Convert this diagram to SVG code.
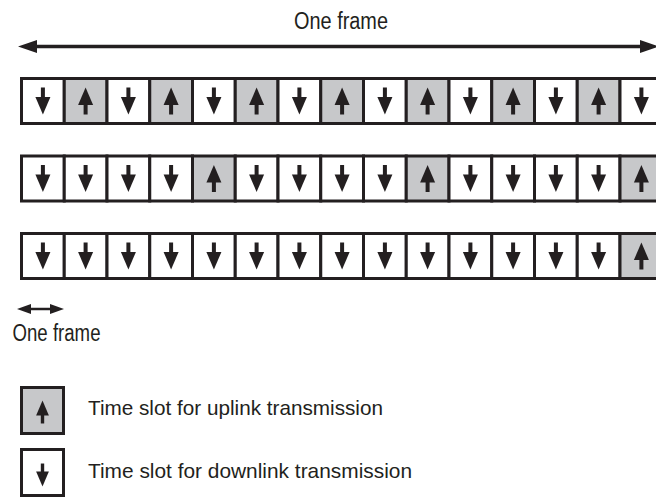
<svg xmlns="http://www.w3.org/2000/svg" xmlns:xlink="http://www.w3.org/1999/xlink" width="656" height="497" viewBox="0 0 656 497">
<style>
.dn{fill:#ffffff;stroke:#231f20;stroke-width:3}
.up{fill:#c7c8ca;stroke:#231f20;stroke-width:3}
.g{fill:#231f20}
.t{font-family:"Liberation Sans",Arial,sans-serif;fill:#231f20}
.ln{stroke:#231f20;stroke-width:3.5;fill:none}
</style>
<defs>
<g id="ad"><rect x="-2" y="-13.5" width="4" height="11" class="g"/><polygon points="-7.5,-4 7.5,-4 0,13.5" class="g"/></g>
<g id="au"><rect x="-2" y="2.5" width="4" height="11" class="g"/><polygon points="-7.5,4 7.5,4 0,-13.5" class="g"/></g>
</defs>
<rect width="656" height="497" fill="#ffffff"/>
<g id="connectors">
<line class="ln" x1="34" y1="46.5" x2="642" y2="46.5"/>
<polygon class="g" points="18,46.5 37,40 37,53"/>
<polygon class="g" points="659,46.5 640,40 640,53"/>
<line stroke="#231f20" stroke-width="2.5" x1="28" y1="309" x2="53" y2="309"/>
<polygon class="g" points="17,309 31,304 31,314"/>
<polygon class="g" points="64,309 50,304 50,314"/>
</g>
<text class="t" x="294" y="29" font-size="23" textLength="94" lengthAdjust="spacingAndGlyphs">One frame</text>
<text class="t" x="12.5" y="341" font-size="23" textLength="88" lengthAdjust="spacingAndGlyphs">One frame</text>
<g id="row1">
<g id="r1c0"><rect class="dn" x="21.5" y="78.5" width="42.75" height="45"/><use xlink:href="#ad" x="42.9" y="101"/></g>
<g id="r1c1"><rect class="up" x="64.25" y="78.5" width="42.75" height="45"/><use xlink:href="#au" x="85.6" y="101"/></g>
<g id="r1c2"><rect class="dn" x="107" y="78.5" width="42.75" height="45"/><use xlink:href="#ad" x="128.4" y="101"/></g>
<g id="r1c3"><rect class="up" x="149.75" y="78.5" width="42.75" height="45"/><use xlink:href="#au" x="171.1" y="101"/></g>
<g id="r1c4"><rect class="dn" x="192.5" y="78.5" width="42.75" height="45"/><use xlink:href="#ad" x="213.9" y="101"/></g>
<g id="r1c5"><rect class="up" x="235.25" y="78.5" width="42.75" height="45"/><use xlink:href="#au" x="256.6" y="101"/></g>
<g id="r1c6"><rect class="dn" x="278" y="78.5" width="42.75" height="45"/><use xlink:href="#ad" x="299.4" y="101"/></g>
<g id="r1c7"><rect class="up" x="320.75" y="78.5" width="42.75" height="45"/><use xlink:href="#au" x="342.1" y="101"/></g>
<g id="r1c8"><rect class="dn" x="363.5" y="78.5" width="42.75" height="45"/><use xlink:href="#ad" x="384.9" y="101"/></g>
<g id="r1c9"><rect class="up" x="406.25" y="78.5" width="42.75" height="45"/><use xlink:href="#au" x="427.6" y="101"/></g>
<g id="r1c10"><rect class="dn" x="449" y="78.5" width="42.75" height="45"/><use xlink:href="#ad" x="470.4" y="101"/></g>
<g id="r1c11"><rect class="up" x="491.75" y="78.5" width="42.75" height="45"/><use xlink:href="#au" x="513.1" y="101"/></g>
<g id="r1c12"><rect class="dn" x="534.5" y="78.5" width="42.75" height="45"/><use xlink:href="#ad" x="555.9" y="101"/></g>
<g id="r1c13"><rect class="up" x="577.25" y="78.5" width="42.75" height="45"/><use xlink:href="#au" x="598.6" y="101"/></g>
<g id="r1c14"><rect class="dn" x="620" y="78.5" width="42.75" height="45"/><use xlink:href="#ad" x="641.4" y="101"/></g>
</g>
<g id="row2">
<g id="r2c0"><rect class="dn" x="21.5" y="156" width="42.75" height="45"/><use xlink:href="#ad" x="42.9" y="178.5"/></g>
<g id="r2c1"><rect class="dn" x="64.25" y="156" width="42.75" height="45"/><use xlink:href="#ad" x="85.6" y="178.5"/></g>
<g id="r2c2"><rect class="dn" x="107" y="156" width="42.75" height="45"/><use xlink:href="#ad" x="128.4" y="178.5"/></g>
<g id="r2c3"><rect class="dn" x="149.75" y="156" width="42.75" height="45"/><use xlink:href="#ad" x="171.1" y="178.5"/></g>
<g id="r2c4"><rect class="up" x="192.5" y="156" width="42.75" height="45"/><use xlink:href="#au" x="213.9" y="178.5"/></g>
<g id="r2c5"><rect class="dn" x="235.25" y="156" width="42.75" height="45"/><use xlink:href="#ad" x="256.6" y="178.5"/></g>
<g id="r2c6"><rect class="dn" x="278" y="156" width="42.75" height="45"/><use xlink:href="#ad" x="299.4" y="178.5"/></g>
<g id="r2c7"><rect class="dn" x="320.75" y="156" width="42.75" height="45"/><use xlink:href="#ad" x="342.1" y="178.5"/></g>
<g id="r2c8"><rect class="dn" x="363.5" y="156" width="42.75" height="45"/><use xlink:href="#ad" x="384.9" y="178.5"/></g>
<g id="r2c9"><rect class="up" x="406.25" y="156" width="42.75" height="45"/><use xlink:href="#au" x="427.6" y="178.5"/></g>
<g id="r2c10"><rect class="dn" x="449" y="156" width="42.75" height="45"/><use xlink:href="#ad" x="470.4" y="178.5"/></g>
<g id="r2c11"><rect class="dn" x="491.75" y="156" width="42.75" height="45"/><use xlink:href="#ad" x="513.1" y="178.5"/></g>
<g id="r2c12"><rect class="dn" x="534.5" y="156" width="42.75" height="45"/><use xlink:href="#ad" x="555.9" y="178.5"/></g>
<g id="r2c13"><rect class="dn" x="577.25" y="156" width="42.75" height="45"/><use xlink:href="#ad" x="598.6" y="178.5"/></g>
<g id="r2c14"><rect class="up" x="620" y="156" width="42.75" height="45"/><use xlink:href="#au" x="641.4" y="178.5"/></g>
</g>
<g id="row3">
<g id="r3c0"><rect class="dn" x="21.5" y="233.5" width="42.75" height="45"/><use xlink:href="#ad" x="42.9" y="256"/></g>
<g id="r3c1"><rect class="dn" x="64.25" y="233.5" width="42.75" height="45"/><use xlink:href="#ad" x="85.6" y="256"/></g>
<g id="r3c2"><rect class="dn" x="107" y="233.5" width="42.75" height="45"/><use xlink:href="#ad" x="128.4" y="256"/></g>
<g id="r3c3"><rect class="dn" x="149.75" y="233.5" width="42.75" height="45"/><use xlink:href="#ad" x="171.1" y="256"/></g>
<g id="r3c4"><rect class="dn" x="192.5" y="233.5" width="42.75" height="45"/><use xlink:href="#ad" x="213.9" y="256"/></g>
<g id="r3c5"><rect class="dn" x="235.25" y="233.5" width="42.75" height="45"/><use xlink:href="#ad" x="256.6" y="256"/></g>
<g id="r3c6"><rect class="dn" x="278" y="233.5" width="42.75" height="45"/><use xlink:href="#ad" x="299.4" y="256"/></g>
<g id="r3c7"><rect class="dn" x="320.75" y="233.5" width="42.75" height="45"/><use xlink:href="#ad" x="342.1" y="256"/></g>
<g id="r3c8"><rect class="dn" x="363.5" y="233.5" width="42.75" height="45"/><use xlink:href="#ad" x="384.9" y="256"/></g>
<g id="r3c9"><rect class="dn" x="406.25" y="233.5" width="42.75" height="45"/><use xlink:href="#ad" x="427.6" y="256"/></g>
<g id="r3c10"><rect class="dn" x="449" y="233.5" width="42.75" height="45"/><use xlink:href="#ad" x="470.4" y="256"/></g>
<g id="r3c11"><rect class="dn" x="491.75" y="233.5" width="42.75" height="45"/><use xlink:href="#ad" x="513.1" y="256"/></g>
<g id="r3c12"><rect class="dn" x="534.5" y="233.5" width="42.75" height="45"/><use xlink:href="#ad" x="555.9" y="256"/></g>
<g id="r3c13"><rect class="dn" x="577.25" y="233.5" width="42.75" height="45"/><use xlink:href="#ad" x="598.6" y="256"/></g>
<g id="r3c14"><rect class="up" x="620" y="233.5" width="42.75" height="45"/><use xlink:href="#au" x="641.4" y="256"/></g>
</g>
<g id="legend-up">
<rect class="up" x="21.5" y="387.5" width="42" height="46" stroke-width="3.5"/>
<use xlink:href="#au" transform="translate(42.5,412) scale(0.85)"/>
<text class="t" x="88" y="415" font-size="21" textLength="295" lengthAdjust="spacingAndGlyphs">Time slot for uplink transmission</text>
</g>
<g id="legend-down">
<rect class="dn" x="21.5" y="449.5" width="42" height="46" stroke-width="3.5"/>
<use xlink:href="#ad" transform="translate(42.5,475) scale(0.85)"/>
<text class="t" x="88" y="477.5" font-size="21" textLength="324" lengthAdjust="spacingAndGlyphs">Time slot for downlink transmission</text>
</g>
</svg>
